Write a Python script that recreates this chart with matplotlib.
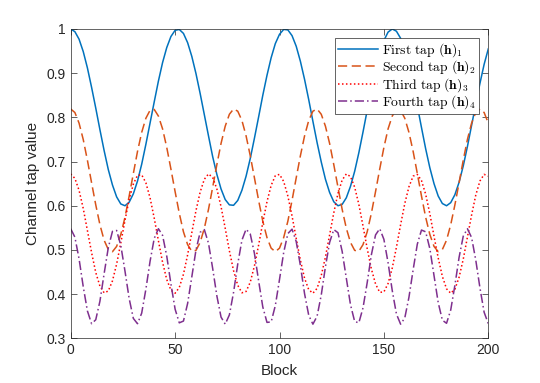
import numpy as np
import matplotlib; matplotlib.use("Agg"); import matplotlib.pyplot as plt
from matplotlib.ticker import FuncFormatter

# channel tap values, every 2 blocks, in thousandths
block = list(range(0, 201, 2))
tap1 = [1000, 994, 977, 949, 912, 868, 821, 772, 725, 682, 647, 620, 604, 600, 608, 627, 656, 694, 739, 787, 835, 882, 924, 958, 983, 997, 999, 990, 969, 938, 899, 854, 806, 758, 711, 671, 638, 614, 602, 601, 612, 635, 667, 707, 753, 801, 850, 895, 935, 967, 988, 999, 998, 985, 961, 927, 886, 840, 791, 743, 699, 660, 630, 609, 600, 603, 618, 644, 678, 720, 767, 816, 864, 908, 945, 974, 993, 1000, 995, 979, 952, 916, 873, 826, 777, 729, 686, 650, 622, 605, 600, 607, 625, 653, 690, 734, 782, 830, 877, 920, 955]
tap2 = [819, 811, 787, 750, 703, 652, 602, 557, 522, 501, 496, 508, 535, 574, 622, 673, 723, 766, 798, 816, 818, 803, 774, 732, 683, 632, 583, 541, 512, 497, 499, 517, 549, 592, 642, 693, 741, 780, 807, 819, 814, 793, 758, 713, 663, 612, 565, 528, 504, 496, 504, 528, 565, 612, 663, 713, 758, 793, 814, 819, 807, 780, 741, 693, 642, 592, 549, 517, 499, 497, 512, 541, 583, 632, 683, 732, 774, 803, 818, 816, 798, 766, 723, 673, 622, 574, 535, 508, 496, 501, 522, 557, 602, 652, 703, 750, 787, 811, 819, 811, 787]
tap3 = [672, 662, 635, 594, 544, 494, 449, 418, 403, 407, 430, 468, 516, 567, 614, 649, 669, 670, 652, 618, 572, 521, 472, 433, 409, 402, 415, 445, 489, 539, 589, 631, 660, 672, 664, 638, 598, 549, 498, 453, 420, 403, 406, 427, 464, 511, 562, 609, 646, 668, 671, 655, 622, 577, 526, 477, 436, 410, 402, 413, 442, 484, 534, 584, 628, 658, 672, 666, 642, 603, 554, 503, 457, 423, 404, 405, 424, 459, 506, 557, 605, 643, 667, 671, 657, 626, 582, 531, 482, 440, 412, 402, 411, 438, 479, 529, 579, 624, 656, 671, 667]
tap4 = [548, 529, 480, 417, 362, 333, 342, 384, 446, 505, 542, 544, 510, 452, 390, 345, 333, 357, 411, 474, 526, 548, 533, 486, 423, 366, 335, 339, 379, 439, 500, 540, 546, 515, 458, 396, 348, 332, 353, 404, 468, 522, 547, 536, 492, 430, 371, 336, 337, 374, 433, 494, 537, 547, 519, 465, 401, 352, 332, 350, 398, 462, 517, 546, 539, 497, 436, 376, 338, 335, 369, 426, 489, 534, 548, 524, 471, 408, 355, 332, 346, 393, 455, 513, 545, 541, 503, 442, 381, 341, 334, 364, 420, 483, 531, 548, 528, 477, 414, 359, 333]
labels = [r"$\mathrm{First\ tap\ }(\mathbf{h})_1$", r"$\mathrm{Second\ tap\ }(\mathbf{h})_2$",
          r"$\mathrm{Third\ tap\ }(\mathbf{h})_3$", r"$\mathrm{Fourth\ tap\ }(\mathbf{h})_4$"]

plt.rcParams.update({"font.family": "Liberation Sans", "mathtext.fontset": "cm"})
fig = plt.figure(figsize=(5.4, 3.83), dpi=100)
ax = fig.add_axes([70.7/540, 1-338.3/383, (488.3-70.7)/540, (338.3-29)/383])
cols = ["#0072BD", "#D95319", "#FF0000", "#7E2F8E"]
styles = ["-", (0, (6, 3)), (0, (1, 1.6)), (0, (6, 2, 1, 2))]
for y, c, s, l in zip([tap1, tap2, tap3, tap4], cols, styles, labels):
    ax.plot(block, np.array(y)/1000, color=c, ls=s, lw=1.1, label=l)
ax.set_xlim(0, 200); ax.set_ylim(0.3, 1)
ax.set_xticks([0, 50, 100, 150, 200])
ax.set_yticks(np.arange(3, 11)/10)
ax.yaxis.set_major_formatter(FuncFormatter(lambda v, p: f"{v:g}"))
ax.set_xlabel("Block", fontsize=11, color="#262626", labelpad=5)
ax.set_ylabel("Channel tap value", fontsize=11, color="#262626", labelpad=5)
ax.tick_params(direction="in", top=True, right=True, labelsize=10, colors="#262626", length=4, width=0.5)
for sp in ax.spines.values(): sp.set_color("#262626"); sp.set_linewidth(0.5)
leg = ax.legend(loc="upper right", bbox_to_anchor=(479.3/540, 1-38.3/383), bbox_transform=fig.transFigure,
                fontsize=9.8, borderaxespad=0, handlelength=3.0, handletextpad=0.3, labelspacing=-0.02,
                borderpad=0.2, fancybox=False, edgecolor="#262626", framealpha=1)
leg.get_frame().set_linewidth(0.5)
fig.savefig("out.png")
